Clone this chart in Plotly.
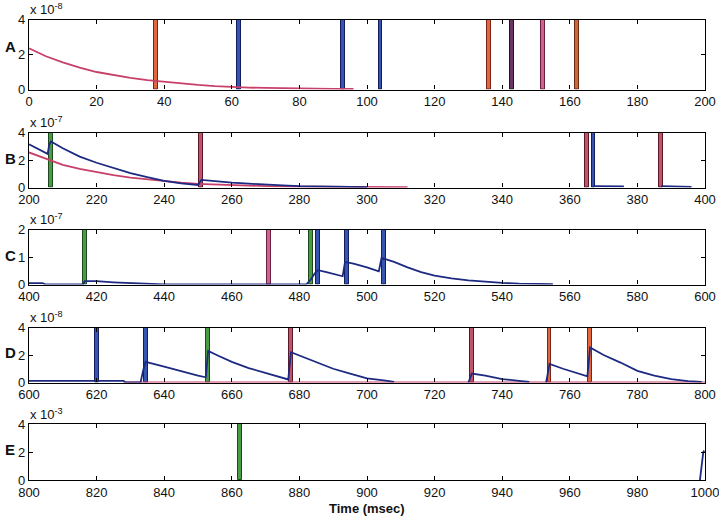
import plotly.graph_objects as go

# ---------------- data ----------------
panels = ["A", "B", "C", "D", "E"]
x_ranges = [[0, 200], [200, 400], [400, 600], [600, 800], [800, 1000]]
y_tops = [4, 4, 2, 4, 4]
y_ticks = [[0, 2, 4], [0, 2, 4], [0, 1, 2], [0, 2, 4], [0, 2, 4]]
exponents = ["-8", "-7", "-7", "-8", "-3"]

# spikes: (time, colour-key)
spikes_A = [(37.5, "orange"), (62, "blue"), (93, "blue"), (104, "blue"),
            (136, "orange"), (143, "purple"), (152, "pink"), (162, "brown")]
spikes_B = [(206.5, "green"), (251, "red"), (365, "red"), (367, "blue"), (387, "red")]
spikes_C = [(416.5, "green"), (471, "pink"), (483.5, "green"), (485.5, "blue"),
            (494, "blue"), (505, "blue")]
spikes_D = [(620, "blue"), (634.5, "blue"), (653, "green"), (677.5, "red"),
            (731, "red"), (754, "orange"), (766, "orange")]
spikes_E = [(862.5, "green")]

# curves
A_pink_x = [0, 5, 10, 15, 20, 25, 30, 35, 40, 45, 50, 55, 60, 65, 70, 75, 80, 85, 90, 96]
A_pink_y = [2.35, 1.9, 1.55, 1.25, 1.0, 0.82, 0.67, 0.54, 0.44, 0.34, 0.26, 0.19, 0.14,
            0.11, 0.09, 0.07, 0.06, 0.05, 0.04, 0.03]

B_blue_x = [200, 202, 204, 205.5, 206, 206.5, 210, 215, 220, 225, 230, 235, 240, 245, 250,
            251, 255, 260, 265, 270, 275, 280, 290, 300, None,
            367, 370, 376, None, 387, 390, 396]
B_blue_y = [3.15, 2.9, 2.65, 2.45, 3.1, 3.35, 2.85, 2.25, 1.8, 1.4, 1.05, 0.75, 0.48, 0.3, 0.18,
            0.55, 0.45, 0.35, 0.28, 0.2, 0.15, 0.1, 0.05, 0.02, None,
            0.1, 0.1, 0.08, None, 0.1, 0.1, 0.05]
B_pink_x = [200, 205, 207, 210, 215, 220, 225, 230, 235, 240, 245, 250, 255, 260, 270, 280,
            290, 300, 312]
B_pink_y = [2.55, 2.1, 1.9, 1.65, 1.35, 1.1, 0.9, 0.72, 0.58, 0.45, 0.35, 0.27, 0.22, 0.17,
            0.1, 0.06, 0.04, 0.03, 0.02]

C_blue_x = [400, 404, 405, 416, 416.5, 420, 425, 430, 440, 482, 483.5, 484.5, 485.5, 488,
            492, 492.8, 493.5, 496, 500, 503.5, 504.3, 508, 512, 516, 520, 525, 530, 535,
            540, 545, 555]
C_blue_y = [0.05, 0.05, 0.0, 0.0, 0.12, 0.12, 0.08, 0.05, 0.0, 0.0, 0.2, 0.4, 0.52, 0.45,
            0.32, 0.3, 0.82, 0.76, 0.62, 0.48, 0.97, 0.82, 0.62, 0.45, 0.32, 0.22, 0.15,
            0.1, 0.06, 0.03, 0.01]

D_blue_x = [600, 628, 628.5, 633, 633.8, 634.5, 640, 645, 650, 652.3, 653, 656, 660, 665,
            670, 675, 676.7, 677.5, 680, 685, 690, 695, 700, 705, 708, None,
            730, 731, 735, 740, 745, 748, None,
            753, 754, 758, 762, 765.2, 766, 770, 775, 780, 785, 790, 795, 799]
D_blue_y = [0.12, 0.12, 0.0, 0.0, 0.9, 1.5, 1.15, 0.8, 0.5, 0.38, 2.3, 1.95, 1.5, 1.05,
            0.7, 0.35, 0.22, 2.2, 1.95, 1.45, 1.0, 0.65, 0.3, 0.15, 0.05, None,
            0.0, 0.65, 0.5, 0.25, 0.12, 0.05, None,
            0.0, 1.35, 1.0, 0.7, 0.45, 2.55, 2.0, 1.45, 0.85, 0.5, 0.25, 0.1, 0.05]
D_pink_x = [628, 800]
D_pink_y = [0.0, 0.0]

E_blue_x = [998.5, 999.5, 999.8]
E_blue_y = [0.0, 2.0, 2.1]

# ---------------- styles ----------------
spike_fill = {"orange": "#e0673f", "blue": "#3556b0", "purple": "#6a3468",
              "pink": "#d0628e", "brown": "#c8683c", "green": "#4c9a45", "red": "#c05468"}
spike_edge = {"orange": "#7a2418", "blue": "#141c5c", "purple": "#2a1030",
              "pink": "#6a2040", "brown": "#6a2a14", "green": "#1c4a1c", "red": "#5a1828"}
PINK = "#c8406a"
NAVY = "#1c2a82"
FONT = "Liberation Sans, Arial"

W, H = 719, 523
x0, x1 = 29 / W, 705 / W
rows_px = [(19.5, 89.5), (132.5, 187.5), (229.5, 284.5), (327.5, 382.5), (424, 480)]
letter_px = [46, 158, 255, 352, 449]

fig = go.Figure()
spikes_all = [spikes_A, spikes_B, spikes_C, spikes_D, spikes_E]
curves = [
    [(A_pink_x, A_pink_y, PINK)],
    [(B_pink_x, B_pink_y, PINK), (B_blue_x, B_blue_y, NAVY)],
    [(C_blue_x, C_blue_y, NAVY)],
    [(D_pink_x, D_pink_y, PINK), (D_blue_x, D_blue_y, NAVY)],
    [(E_blue_x, E_blue_y, NAVY)],
]

for i in range(5):
    n = "" if i == 0 else str(i + 1)
    xa, ya = "x" + n, "y" + n
    for (cx, cy, col) in curves[i]:
        fig.add_trace(go.Scatter(x=cx, y=cy, mode="lines", xaxis=xa, yaxis=ya,
                                 line=dict(color=col, width=1.8), showlegend=False,
                                 connectgaps=False))
    for (t, key) in spikes_all[i]:
        fig.add_trace(go.Bar(x=[t], y=[y_tops[i]], width=[1.15], xaxis=xa, yaxis=ya,
                             marker=dict(color=spike_fill[key],
                                         line=dict(color=spike_edge[key], width=1)),
                             showlegend=False))
    top, bot = rows_px[i]
    dom = [1 - bot / H, 1 - top / H]
    axis_common = dict(showline=True, linecolor="black", linewidth=1.3, mirror="ticks",
                       ticks="inside", ticklen=4, tickcolor="black", showgrid=False,
                       zeroline=False, automargin=False, ticklabeloverflow="allow",
                       tickfont=dict(family=FONT, size=13, color="#111"))
    fig.layout["xaxis" + n] = dict(domain=[x0, x1], range=x_ranges[i], anchor=ya,
                                   tickmode="array",
                                   tickvals=list(range(x_ranges[i][0], x_ranges[i][1] + 1, 20)),
                                   **axis_common)
    fig.layout["yaxis" + n] = dict(domain=dom, range=[0, y_tops[i]], anchor=xa,
                                   tickvals=y_ticks[i], **axis_common)
    fig.add_annotation(x=x0 - 0.001, y=dom[1] + 0.5 / H, xref="paper", yref="paper",
                       xanchor="left", yanchor="bottom", showarrow=False,
                       text="x 10<sup>" + exponents[i] + "</sup>",
                       font=dict(family=FONT, size=13, color="#111"))
    fig.add_annotation(x=10 / W, y=1 - letter_px[i] / H, xref="paper", yref="paper",
                       xanchor="center", yanchor="middle", showarrow=False,
                       text="<b>" + panels[i] + "</b>",
                       font=dict(family=FONT, size=15, color="#111"))

fig.add_annotation(x=(x0 + x1) / 2, y=1 - 508 / H, xref="paper", yref="paper",
                   xanchor="center", yanchor="middle", showarrow=False,
                   text="<b>Time (msec)</b>",
                   font=dict(family=FONT, size=13, color="#111"))

fig.update_layout(width=W, height=H, margin=dict(l=0, r=0, t=0, b=0),
                  plot_bgcolor="white", paper_bgcolor="white", barmode="overlay",
                  bargap=0)
fig.write_html("out.html")
